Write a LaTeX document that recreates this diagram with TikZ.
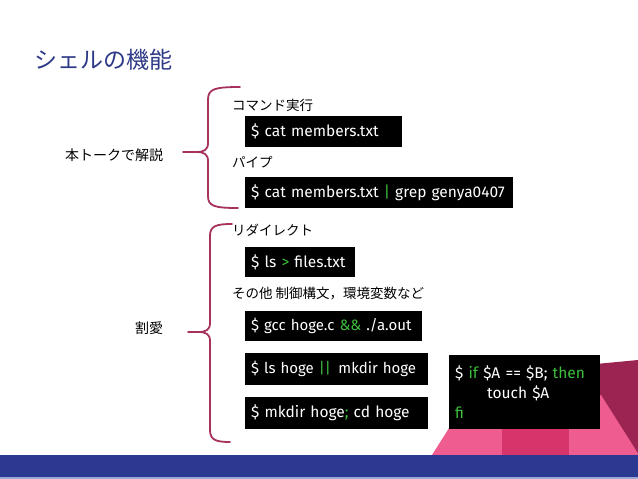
\documentclass[tikz,border=0pt]{standalone}
\usepackage{fontspec}
\newfontfamily\jpfont{Noto Sans CJK JP}
\newfontfamily\codefont{Fira Sans}
\definecolor{titleblue}{HTML}{2E3A87}
\definecolor{barblue}{HTML}{2B3990}
\definecolor{barlight}{HTML}{9AA6D6}
\definecolor{bracecol}{HTML}{A8325E}
\definecolor{codegreen}{HTML}{3CC03C}
\definecolor{pinklight}{HTML}{EF5C8F}
\definecolor{pinkmid}{HTML}{D6346B}
\definecolor{maroon}{HTML}{9C2452}
\newcommand{\gr}[1]{\textcolor{codegreen}{#1}}
\tikzset{
  codebox/.style={fill=black, text=white, anchor=north west, inner xsep=6pt, inner ysep=0pt,
    align=left, font=\codefont\fontsize{15.5}{19}\selectfont},
  jplabel/.style={anchor=west, inner sep=0pt, font=\jpfont\fontsize{13.5}{16}\selectfont},
  bracepath/.style={draw=bracecol, line width=1.8pt, line cap=round}
}
\begin{document}
\begin{tikzpicture}[x=1pt,y=-1pt]
\useasboundingbox (0,0) rectangle (638,479);
\fill[white] (0,0) rectangle (638,479);
% decorative shapes
\fill[maroon] (575,366) -- (638,360) -- (638,455) -- cycle;
\fill[pinklight] (432,455) -- (470,395) -- (601,395) -- (639,455) -- cycle;
\fill[pinkmid] (502,395) rectangle (569,455);
% bottom bar
\fill[barblue] (0,455) rectangle (638,479);
\fill[barlight] (0,477) rectangle (638,479);
% title
\node[anchor=west, inner sep=0pt, text=titleblue, font=\jpfont\fontsize{23}{28}\selectfont] (title) at (34,60) {シェルの機能};
% left labels
\node[anchor=west, inner sep=0pt, font=\jpfont\fontsize{14}{17}\selectfont] (expl) at (65,155) {本トークで解説};
\node[anchor=west, inner sep=0pt, font=\jpfont\fontsize{14}{17}\selectfont] (omit) at (135,328) {割愛};
% braces
\path[bracepath] (240,87) .. controls (214,87) and (208,89) .. (208,100) -- (208,143)
  .. controls (208,150) and (204,152) .. (196,152) -- (183,152);
\path[bracepath] (196,152) .. controls (204,152) and (208,154) .. (208,161) -- (208,196)
  .. controls (208,206) and (214,208) .. (238,208);
\path[bracepath] (232,224) .. controls (216,224) and (210,226) .. (210,236) -- (210,323)
  .. controls (210,330) and (206,332) .. (198,332) -- (188,332);
\path[bracepath] (198,332) .. controls (206,332) and (210,334) .. (210,341) -- (210,430)
  .. controls (210,440) and (216,442) .. (230,442);
% section labels
\node[jplabel] (l1) at (232,105) {コマンド実行};
\node[jplabel] (l2) at (232,162) {パイプ};
\node[jplabel] (l3) at (232,230) {リダイレクト};
\node[jplabel] (l4) at (232,294) {その他 制御構文，環境変数など};
% code boxes
\node[codebox, text width=145pt, minimum height=31pt] (c1) at (245,116) {\mbox{\$ cat members.txt}};
\node[codebox, text width=256pt, minimum height=31pt] (c2) at (245,177) {\mbox{\$ cat members.txt \gr{|} grep genya0407}};
\node[codebox, text width=98pt, minimum height=30pt] (c3) at (245,247) {\mbox{\$ ls \gr{>} files.txt}};
\node[codebox, text width=165pt, minimum height=30pt, font=\codefont\fontsize{15}{19}\selectfont] (c4) at (245,311) {\mbox{\$ gcc hoge.c \gr{\&\&} ./a.out}};
\node[codebox, text width=171pt, minimum height=32pt, font=\codefont\fontsize{15}{19}\selectfont] (c5) at (245,353) {\mbox{\$ ls hoge \gr{||}\ \,mkdir hoge}};
\node[codebox, text width=171pt, minimum height=32pt] (c6) at (245,397) {\mbox{\$ mkdir hoge\gr{;} cd hoge}};
\node[codebox, text width=139pt, minimum height=74pt, inner ysep=4pt,
  font=\codefont\fontsize{15.5}{20}\selectfont] (c7) at (449,355)
  {\$ \gr{if} \$A == \$B; \gr{then}\\\hspace*{32pt}touch \$A\\\gr{fi}};
\end{tikzpicture}
\end{document}
